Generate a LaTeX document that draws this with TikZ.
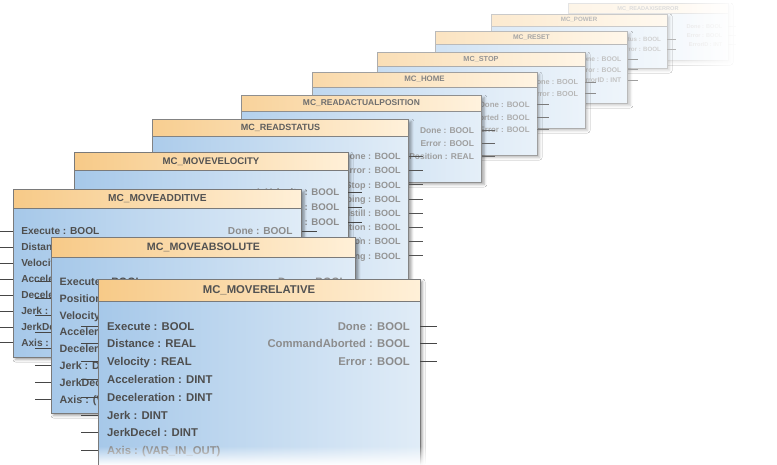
\documentclass[tikz,border=0pt]{standalone}
\usepackage{fontspec}
\setmainfont{Liberation Sans}
\usetikzlibrary{shadows.blur,fadings}

\definecolor{hdrL}{RGB}{247,202,136}
\definecolor{hdrR}{RGB}{255,240,216}
\definecolor{bodyL}{RGB}{166,200,233}
\definecolor{bodyR}{RGB}{224,236,247}
\definecolor{bordC}{RGB}{122,122,122}
\definecolor{inC}{RGB}{78,78,78}
\definecolor{outC}{RGB}{140,140,140}
\definecolor{titC}{RGB}{82,82,82}
\definecolor{pinC}{RGB}{70,70,70}
\colorlet{cOut}{outC}

\tikzfading[name=fadeS, top color=transparent!100, bottom color=transparent!0]
\tikzfading[name=fadeE, left color=transparent!100, right color=transparent!0]

\newcommand\lt[1]{\textcolor{cOut}{#1}}

% #1 id, #2 x, #3 top y, #4 scale, #5 bottom y, #6 visibility %, #7 title, #8 outputs
\newcommand\fblock[8]{%
  \pgfmathsetmacro\bW{322*#4}%
  \pgfmathsetmacro\bH{22*#4}%
  \pgfmathsetmacro\bHt{#5-#3}%
  \pgfmathsetmacro\bHb{#5-#3-22*#4}%
  \pgfmathsetmacro\bFs{11.3*#4}%
  \pgfmathsetmacro\bDy{17.8*#4}%
  \pgfmathsetmacro\bRo{#3+22*#4+25*#4}%
  \pgfmathsetmacro\bPad{9*#4}%
  \pgfmathsetmacro\bPin{17*#4}%
  \pgfmathsetmacro\bSh{38*#6/100}%
  \pgfmathsetmacro\bX{#2}%
  \colorlet{cHL}{hdrL!#6!white}%
  \colorlet{cHR}{hdrR!#6!white}%
  \colorlet{cBL}{bodyL!#6!white}%
  \colorlet{cBR}{bodyR!#6!white}%
  \colorlet{cBd}{bordC!#6!white}%
  \colorlet{cIn}{inC!#6!white}%
  \colorlet{cOut}{outC!#6!white}%
  \colorlet{cTi}{titC!#6!white}%
  \colorlet{cPn}{pinC!#6!white}%
  \node[blk, minimum width=\bW pt, minimum height=\bHt pt,
        blur shadow={shadow xshift=2.5pt, shadow yshift=-2.5pt, shadow blur radius=2.5pt, shadow opacity=\bSh}] (#1) at (#2,#3) {};
  \node[blk, minimum width=\bW pt, minimum height=\bHb pt, left color=cBL, right color=cBR, draw=cBd, line width=1pt] (#1b) at (#2,{#3+\bH}) {};
  \node[blk, minimum width=\bW pt, minimum height=\bH pt, left color=cHL, right color=cHR, draw=cBd, line width=1pt, text=cTi, font=\fontsize{\bFs}{\bFs}\selectfont\bfseries] (#1h) at (#2,#3) {#7};
  \foreach \t [count=\i from 0] in {#8} {%
    \pgfmathsetmacro\yy{\bRo+\i*\bDy}%
    \coordinate (#1po\i) at ({#2+\bW},\yy);
    \draw[pinline, draw=cPn] (#1po\i) -- ++(\bPin,0);
    \node[anchor=base east, inner sep=0pt, text=cOut, font=\fontsize{\bFs}{\bFs}\selectfont\bfseries] (#1out\i) at ({#2+\bW-\bPad-1},{\yy+0.36*\bFs}) {\t};
  }%
}
% #1 id, #2 inputs (uses geometry of last block)
\newcommand\finputs[2]{%
  \foreach \t [count=\i from 0] in {#2} {%
    \pgfmathsetmacro\yy{\bRo+\i*\bDy}%
    \coordinate (#1pi\i) at (\bX,\yy);
    \draw[pinline, draw=cPn] (#1pi\i) -- ++(-\bPin,0);
    \node[anchor=base west, inner sep=0pt, text=cIn, font=\fontsize{\bFs}{\bFs}\selectfont\bfseries] (#1in\i) at ({\bX+\bPad},{\yy+0.36*\bFs}) {\t};
  }%
}

\begin{document}
\begin{tikzpicture}[x=1pt,y=-1pt,
  blk/.style={anchor=north west, inner sep=0pt, outer sep=0pt, rectangle},
  pinline/.style={line width=0.9pt, line cap=butt}]
\useasboundingbox (0,0) rectangle (777,464);
\fill[white] (0,0) rectangle (777,464);
\clip (0,0) rectangle (777,464);

\fblock{rae}{568}{3}{0.497}{60}{20}{MC\_READAXISERROR}{Done : BOOL, Error : BOOL, ErrorID : INT}
\fblock{pow}{491}{14}{0.547}{68}{40}{MC\_POWER}{Status : BOOL, Error : BOOL}
\fblock{rst}{435}{31}{0.599}{103}{52}{MC\_RESET}{Done : BOOL, Error : BOOL, ErrorID : INT}
\fblock{stp}{377}{52}{0.646}{128}{62}{MC\_STOP}{Done : BOOL, Error : BOOL}
\fblock{hom}{312}{72}{0.699}{155}{72}{MC\_HOME}{Done : BOOL, CommandAborted : BOOL, Error : BOOL}
\fblock{rap}{241}{95}{0.748}{182}{84}{MC\_READACTUALPOSITION}{Done : BOOL, Error : BOOL, Position : REAL}
\fblock{rss}{152}{119}{0.798}{290}{93}{MC\_READSTATUS}{Done : BOOL, Error : BOOL, ErrorStop : BOOL, Stopping : BOOL, Standstill : BOOL, DiscreteMotion : BOOL, ContinuousMotion : BOOL, Homing : BOOL}
\fblock{mvv}{74}{152}{0.851}{330}{100}{MC\_MOVEVELOCITY}{InVelocity : BOOL, CommandAborted : BOOL, Error : BOOL}
\fblock{mad}{13}{189}{0.897}{357}{100}{MC\_MOVEADDITIVE}{Done : BOOL}
\finputs{mad}{Execute : BOOL, Distance : REAL, Velocity : REAL, Acceleration : DINT, Deceleration : DINT, Jerk : DINT, JerkDecel : DINT, Axis : (VAR\_IN\_OUT)}
\fblock{mab}{51}{237}{0.947}{413}{100}{MC\_MOVEABSOLUTE}{Done : BOOL}
\finputs{mab}{Execute : BOOL, Position : REAL, Velocity : REAL, Acceleration : DINT, Deceleration : DINT, Jerk : DINT, JerkDecel : DINT, Axis : (VAR\_IN\_OUT)}
\fblock{mre}{98}{279}{1.0}{475}{100}{MC\_MOVERELATIVE}{Done : BOOL, CommandAborted : BOOL, Error : BOOL}
\finputs{mre}{Execute : BOOL, Distance : REAL, Velocity : REAL, Acceleration : DINT, Deceleration : DINT, Jerk : DINT, JerkDecel : DINT, {\lt{Axis : (VAR\_IN\_OUT)}}}

% fades
\fill[white, path fading=fadeS] (98.6,446) rectangle (440,465);
\fill[white, path fading=fadeE] (680,0) rectangle (740,75);
\fill[white] (740,0) rectangle (777,75);
\end{tikzpicture}
\end{document}
